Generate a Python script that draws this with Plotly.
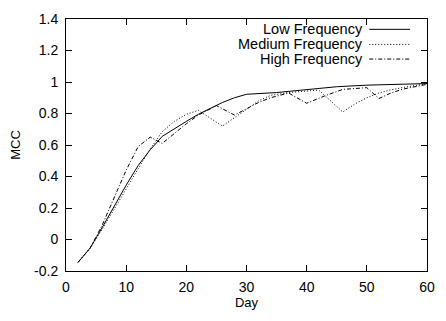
import plotly.graph_objects as go

# ---- data ----
low_days = [2, 4, 6, 8, 10, 12, 14, 16, 18, 20, 22, 24, 26, 28, 30, 35, 40, 45, 50, 55, 60]
low_mcc = [-0.145, -0.055, 0.075, 0.21, 0.345, 0.47, 0.57, 0.655, 0.705, 0.75, 0.795, 0.835,
           0.87, 0.9, 0.922, 0.933, 0.952, 0.97, 0.98, 0.986, 0.99]

med_days = [2, 4, 6, 8, 10, 12, 14, 16, 18, 20, 22, 26, 28, 30, 32, 34, 37, 42, 46, 48, 50,
            52, 54, 56, 58, 60]
med_mcc = [-0.145, -0.055, 0.065, 0.19, 0.32, 0.45, 0.575, 0.685, 0.75, 0.795, 0.82, 0.72,
           0.775, 0.83, 0.88, 0.915, 0.933, 0.949, 0.81, 0.86, 0.90, 0.93, 0.95, 0.965, 0.978, 0.99]

high_days = [2, 4, 6, 8, 10, 12, 14, 16, 18, 20, 22, 25, 28, 30, 32, 34, 37, 40, 43, 46, 50,
             52, 54, 56, 58, 60]
high_mcc = [-0.145, -0.055, 0.09, 0.27, 0.44, 0.59, 0.65, 0.61, 0.675, 0.735, 0.79, 0.85,
            0.79, 0.83, 0.87, 0.9, 0.93, 0.865, 0.912, 0.953, 0.964, 0.895, 0.93, 0.955, 0.972, 0.985]

series_names = ["Low Frequency", "Medium Frequency", "High Frequency"]
series_dash = ["solid", "1px,2px", "4px,2px,1px,2px"]

x_ticks = [0, 10, 20, 30, 40, 50, 60]
x_labels = ["0", "10", "20", "30", "40", "50", "60"]
y_ticks = [-0.2, 0, 0.2, 0.4, 0.6, 0.8, 1.0, 1.2, 1.4]
y_labels = ["-0.2", "0", "0.2", "0.4", "0.6", "0.8", "1", "1.2", "1.4"]

FONT = "Liberation Sans, Arial, sans-serif"

fig = go.Figure()
for days, vals, name, dash in zip([low_days, med_days, high_days],
                                  [low_mcc, med_mcc, high_mcc],
                                  series_names, series_dash):
    fig.add_trace(go.Scatter(x=days, y=vals, mode="lines", name=name,
                             line=dict(color="black", width=1, dash=dash),
                             showlegend=False))

# gnuplot-style legend: right-aligned text, sample line on the right
legend_y = [0.959, 0.899, 0.841]
for name, dash, yy in zip(series_names, series_dash, legend_y):
    fig.add_annotation(xref="paper", yref="paper", x=0.828, y=yy, text=name,
                       showarrow=False, xanchor="right", yanchor="middle",
                       font=dict(family=FONT, size=14.5, color="black"))
    fig.add_shape(type="line", xref="paper", yref="paper", x0=0.84, x1=0.953, y0=yy, y1=yy,
                  line=dict(color="black", width=1, dash=dash))

fig.update_layout(
    width=446, height=321,
    margin=dict(l=66, r=11, t=13, b=50),
    paper_bgcolor="white", plot_bgcolor="white",
    font=dict(family=FONT, size=14, color="black"),
)
fig.update_xaxes(range=[0, 60], tickvals=x_ticks, ticktext=x_labels,
                 ticks="inside", ticklen=6, tickcolor="black", showline=True,
                 linecolor="black", linewidth=1, mirror="ticks", showgrid=False,
                 zeroline=False, ticklabelstandoff=3,
                 title=dict(text="Day", standoff=4, font=dict(family=FONT, size=13)))
fig.update_yaxes(range=[-0.2, 1.4], tickvals=y_ticks, ticktext=y_labels,
                 ticks="inside", ticklen=6, tickcolor="black", showline=True,
                 linecolor="black", linewidth=1, mirror="ticks", showgrid=False,
                 zeroline=False, ticklabelstandoff=4,
                 title=dict(text="MCC", standoff=10, font=dict(family=FONT, size=13)))

fig.write_html("out.html")
